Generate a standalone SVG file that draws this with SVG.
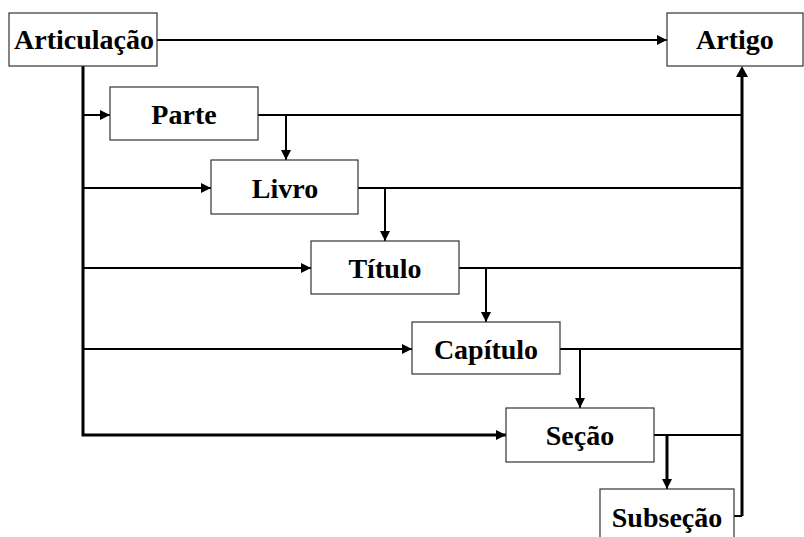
<svg xmlns="http://www.w3.org/2000/svg" width="804" height="537" viewBox="0 0 804 537">
<style>
.box{fill:#fff;stroke:#333;stroke-width:1.2}
.lbl{font-family:"Liberation Serif","Times New Roman",serif;font-weight:bold;font-size:28px;fill:#000;text-anchor:middle}
.ln{fill:none;stroke:#000;stroke-width:2}
.tr{fill:none;stroke:#000;stroke-width:3}
</style>
<defs>
<marker id="ah" viewBox="0 0 10 10" refX="10" refY="5" markerWidth="10" markerHeight="10" markerUnits="userSpaceOnUse" orient="auto">
<path d="M0,0 L10,5 L0,10 Z" fill="#000"/>
</marker>
</defs>
<rect width="804" height="537" fill="#fff"/>
<g id="connectors">
<path class="ln" d="M157,40 H667" marker-end="url(#ah)"/>
<path class="tr" d="M83,66 V435 H506"/>
<path class="ln" d="M83,435 H506" marker-end="url(#ah)"/>
<path class="ln" d="M83,115 H110" marker-end="url(#ah)"/>
<path class="ln" d="M83,188 H211" marker-end="url(#ah)"/>
<path class="ln" d="M83,268 H311" marker-end="url(#ah)"/>
<path class="ln" d="M83,349 H412" marker-end="url(#ah)"/>
<path class="ln" d="M258,115 H742"/>
<path class="ln" d="M358,188 H742"/>
<path class="ln" d="M459,268 H742"/>
<path class="ln" d="M560,349 H742"/>
<path class="ln" d="M654,435 H742"/>
<path class="ln" d="M286,115 V160" marker-end="url(#ah)"/>
<path class="ln" d="M385,188 V241" marker-end="url(#ah)"/>
<path class="ln" d="M486,268 V322" marker-end="url(#ah)"/>
<path class="ln" d="M580,349 V408" marker-end="url(#ah)"/>
<path class="tr" d="M667,435 V482"/>
<path class="ln" d="M667,470 V489" marker-end="url(#ah)"/>
<path class="ln" d="M734,516 H742"/>
<path class="tr" d="M742,516 V76"/>
<path d="M736,77 L742,66 L748,77 Z" fill="#000"/>
</g>
<g id="articulacao"><rect class="box" x="9" y="13" width="148" height="53"/><text class="lbl" x="84" y="49">Articulação</text></g>
<g id="artigo"><rect class="box" x="667" y="13" width="136" height="53"/><text class="lbl" x="735" y="49">Artigo</text></g>
<g id="parte"><rect class="box" x="110" y="87" width="148" height="53"/><text class="lbl" x="184" y="124">Parte</text></g>
<g id="livro"><rect class="box" x="211" y="160" width="147" height="54"/><text class="lbl" x="285" y="198">Livro</text></g>
<g id="titulo"><rect class="box" x="311" y="241" width="148" height="53"/><text class="lbl" x="385" y="278">Título</text></g>
<g id="capitulo"><rect class="box" x="412" y="322" width="148" height="52"/><text class="lbl" x="486" y="359">Capítulo</text></g>
<g id="secao"><rect class="box" x="506" y="408" width="148" height="54"/><text class="lbl" x="580" y="445">Seção</text></g>
<g id="subsecao"><rect class="box" x="600" y="489" width="134" height="60"/><text class="lbl" x="667" y="527">Subseção</text></g>
</svg>
